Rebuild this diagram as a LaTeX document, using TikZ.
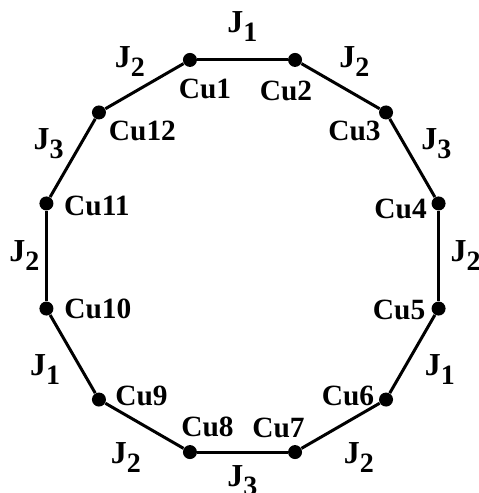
\documentclass[tikz,border=0pt]{standalone}
\usepackage{fontspec}
\setmainfont{Liberation Serif}

\newcommand{\jsub}[1]{J\raisebox{-4.5pt}{\fontsize{14}{14}\selectfont #1}}

\begin{document}
\begin{tikzpicture}[
    x=0.5pt, y=0.5pt,
    site/.style={circle, fill=black, inner sep=0pt, minimum size=7pt},
    bond/.style={line width=1.5pt},
    culabel/.style={inner sep=0pt, font=\fontsize{14.7}{16}\selectfont\bfseries},
    jlabel/.style={inner sep=0pt, font=\fontsize{16}{18}\selectfont\bfseries}
]
\useasboundingbox (-242.5,-237) rectangle (235.5,256);

\foreach \k in {1,...,12}
  \node[site] (cu\k) at ({135-30*\k}:203) {};

\foreach \a/\b/\ang/\r/\j in {1/2/90/229/1, 2/3/60/224/2, 3/4/30/224/3, 4/5/0/223/2,
    5/6/-30/228/1, 6/7/-60/233/2, 7/8/-90/225/3, 8/9/-120/233/2,
    9/10/-150/228/1, 10/11/180/218/2, 11/12/150/224/3, 12/1/120/225/2} {
  \draw[bond] (cu\a) -- (cu\b);
  \node[jlabel] (j\a) at (\ang:\r) {\jsub{\j}};
}

\foreach \k/\dx/\dy in {1/15/-29, 2/-9/-31, 3/-31.5/-18, 4/-38/-5, 5/-39.5/-1, 6/-38/4,
    7/-16.5/24, 8/17.5/25, 9/42.5/4, 10/51.5/0, 11/50.5/-2, 12/43.5/-18}
  \node[culabel] (lab\k) at ([shift={(\dx,\dy)}]cu\k) {Cu\k};

\end{tikzpicture}
\end{document}
